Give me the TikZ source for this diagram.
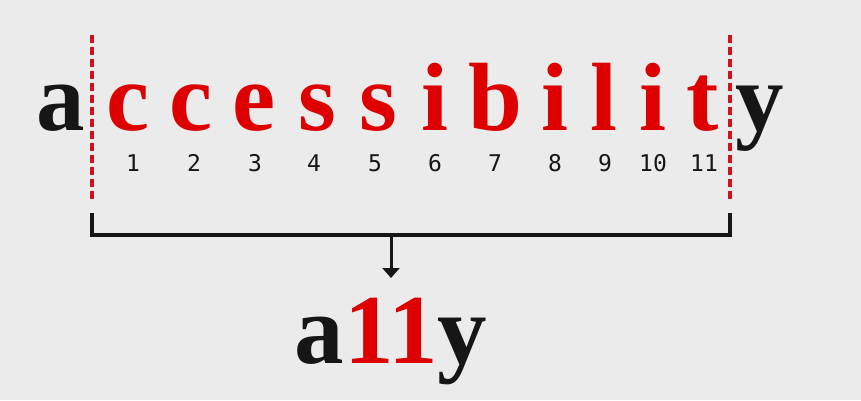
\documentclass[tikz,border=0pt]{standalone}
\usepackage{fontspec}
\setmainfont{Liberation Serif}
\newfontfamily\digitfont{DejaVu Sans Mono}
\usetikzlibrary{arrows.meta}

\definecolor{backgray}{RGB}{235,235,235}
\definecolor{redletter}{RGB}{222,0,0}
\definecolor{redcut}{RGB}{212,16,26}
\definecolor{inkblack}{RGB}{22,22,22}

\tikzset{
  letter/.style = {anchor=base, inner sep=0pt, font=\fontsize{97}{97}\selectfont\bfseries},
  kept/.style = {letter, text=inkblack},
  dropped/.style = {letter, text=redletter},
  counter/.style = {anchor=base, inner sep=0pt, font=\digitfont\fontsize{23}{23}\selectfont, text=inkblack},
  cut/.style = {redcut, line width=3.5pt, dash pattern=on 8pt off 4pt},
  bracket/.style = {inkblack, line width=4pt, line join=miter},
  pointer/.style = {inkblack, line width=3pt, -{Triangle[width=17pt, length=10pt]}}
}

\begin{document}
\begin{tikzpicture}
				% background
				\fill[backgray] (0pt, 0pt) rectangle (861pt, -400pt);
				\useasboundingbox (0pt, 0pt) rectangle (861pt, -400pt);
				
				% letters
				\node[kept] (la) at (61pt, -130pt) {a};
				\node[dropped] (l1) at (128pt, -130pt) {c};
				\node[dropped] (l2) at (191pt, -130pt) {c};
				\node[dropped] (l3) at (254pt, -130pt) {e};
				\node[dropped] (l4) at (317pt, -130pt) {s};
				\node[dropped] (l5) at (378pt, -130pt) {s};
				\node[dropped] (l6) at (435pt, -130pt) {i};
				\node[dropped] (l7) at (495pt, -130pt) {b};
				\node[dropped] (l8) at (555pt, -130pt) {i};
				\node[dropped] (l9) at (604pt, -130pt) {l};
				\node[dropped] (l10) at (653pt, -130pt) {i};
				\node[dropped] (l11) at (703pt, -130pt) {t};
				\node[kept] (ly) at (760pt, -130pt) {y};
				
				% counts
				\node[counter] (n1) at (133pt, -171pt) {1};
				\node[counter] (n2) at (194pt, -171pt) {2};
				\node[counter] (n3) at (255pt, -171pt) {3};
				\node[counter] (n4) at (314pt, -171pt) {4};
				\node[counter] (n5) at (375pt, -171pt) {5};
				\node[counter] (n6) at (435pt, -171pt) {6};
				\node[counter] (n7) at (495pt, -171pt) {7};
				\node[counter] (n8) at (555pt, -171pt) {8};
				\node[counter] (n9) at (605pt, -171pt) {9};
				\node[counter] (n10) at (653pt, -171pt) {10};
				\node[counter] (n11) at (704pt, -171pt) {11};
				
				% cuts
				\coordinate (cutLtop) at (92pt, -35pt);
				\coordinate (cutLbot) at (92pt, -202pt);
				\coordinate (cutRtop) at (730pt, -35pt);
				\coordinate (cutRbot) at (730pt, -202pt);
				\draw[cut] (cutLtop) -- (cutLbot);
				\draw[cut] (cutRtop) -- (cutRbot);
				
				% bracket and arrow
				\coordinate (brL) at (92pt, -213pt);
				\coordinate (brR) at (730pt, -213pt);
				\coordinate (brMid) at (391pt, -235pt);
				\coordinate (tip) at (391pt, -278pt);
				\draw[bracket] (brL) -- ++(0pt, -22pt) -| (brR);
				\draw[pointer] (brMid) -- (tip);
				
				% short form
				\node[kept, font=\fontsize{99}{99}\selectfont\bfseries] (ally) at (391pt, -363pt) {a\textcolor{redletter}{11}y};
				
\end{tikzpicture}
\end{document}
